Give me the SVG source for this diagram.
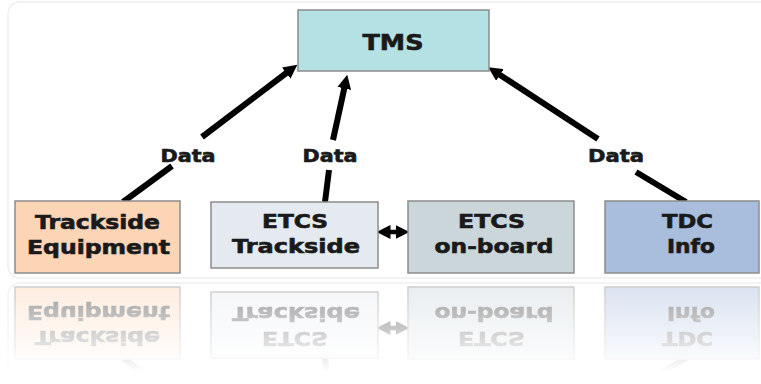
<svg xmlns="http://www.w3.org/2000/svg" xmlns:xlink="http://www.w3.org/1999/xlink" width="761" height="384" viewBox="0 0 761 384">
<style>
.box{stroke:#8c8c8c;stroke-width:1.5}
.lbl{font-family:"DejaVu Sans",Verdana,sans-serif;font-weight:bold;fill:#1a1a1a;stroke:#1a1a1a;stroke-width:0.6;text-anchor:middle}
.t{font-size:19px}
.d{font-size:17px}
.con{stroke:#000;stroke-width:6;fill:none;stroke-linecap:butt}
</style>
<defs>
<marker id="ah" viewBox="0 0 12 12" refX="3" refY="6" markerWidth="14" markerHeight="14" markerUnits="userSpaceOnUse" orient="auto-start-reverse">
<path d="M0,0 L12,6 L0,12 z" fill="#000"/>
</marker>
<linearGradient id="fade" gradientUnits="userSpaceOnUse" x1="0" y1="282" x2="0" y2="372">
<stop offset="0" stop-color="#fff" stop-opacity="0.45"/>
<stop offset="1" stop-color="#fff" stop-opacity="0"/>
</linearGradient>
<mask id="rm" maskUnits="userSpaceOnUse" x="0" y="280" width="761" height="104">
<rect x="0" y="280" width="761" height="104" fill="url(#fade)"/>
</mask>
<linearGradient id="pfade" gradientUnits="userSpaceOnUse" x1="0" y1="282" x2="0" y2="384">
<stop offset="0" stop-color="#fff" stop-opacity="1"/>
<stop offset="1" stop-color="#fff" stop-opacity="0"/>
</linearGradient>
<mask id="pm" maskUnits="userSpaceOnUse" x="0" y="280" width="761" height="104">
<rect x="0" y="280" width="761" height="104" fill="url(#pfade)"/>
</mask>
</defs>
<rect x="0" y="0" width="761" height="384" fill="#fff"/>
<rect x="8" y="2" width="770" height="276" rx="12" fill="#fff" stroke="#efefef" stroke-width="1.5"/>
<rect x="8" y="283" width="770" height="120" rx="12" fill="#fff" stroke="#f0f0f0" stroke-width="1.5" mask="url(#pm)"/>
<g id="main">
<g id="connectors">
<line class="con" x1="123" y1="202" x2="172" y2="166"/>
<line class="con" x1="202" y1="137" x2="289" y2="71" marker-end="url(#ah)"/>
<line class="con" x1="325" y1="202" x2="329" y2="170"/>
<line class="con" x1="333" y1="140" x2="345" y2="85" marker-end="url(#ah)"/>
<line class="con" x1="598" y1="139" x2="497" y2="73" marker-end="url(#ah)"/>
<line class="con" x1="636" y1="172" x2="686" y2="202"/>
<line class="con" x1="387" y1="232" x2="399" y2="232" marker-start="url(#ah)" marker-end="url(#ah)" style="stroke-width:4.5"/>
<text class="lbl d" x="188" y="162" textLength="55" lengthAdjust="spacingAndGlyphs">Data</text>
<text class="lbl d" x="330" y="162" textLength="55" lengthAdjust="spacingAndGlyphs">Data</text>
<text class="lbl d" x="616" y="162" textLength="56" lengthAdjust="spacingAndGlyphs">Data</text>
</g>
<g id="tms">
<rect class="box" x="298" y="10" width="191" height="61" fill="#b4e1e4"/>
<text class="lbl" style="font-size:22px" x="393" y="50" textLength="61" lengthAdjust="spacingAndGlyphs">TMS</text>
</g>
<g id="trackside-equipment">
<rect class="box" x="15" y="201" width="165" height="72" fill="#fbd5b6"/>
<text class="lbl t" x="97.5" y="229" textLength="125" lengthAdjust="spacingAndGlyphs">Trackside</text>
<text class="lbl t" x="98.5" y="254" textLength="143" lengthAdjust="spacingAndGlyphs">Equipment</text>
</g>
<g id="etcs-trackside">
<rect class="box" x="211" y="202" width="167" height="66" fill="#e4eaf0"/>
<text class="lbl t" x="295" y="228" textLength="66" lengthAdjust="spacingAndGlyphs">ETCS</text>
<text class="lbl t" x="296" y="253" textLength="128" lengthAdjust="spacingAndGlyphs">Trackside</text>
</g>
<g id="etcs-onboard">
<rect class="box" x="408" y="201" width="166" height="72" fill="#cbd6db"/>
<text class="lbl t" x="491.5" y="228" textLength="67" lengthAdjust="spacingAndGlyphs">ETCS</text>
<text class="lbl t" x="494" y="253" textLength="119" lengthAdjust="spacingAndGlyphs">on-board</text>
</g>
<g id="tdc-info">
<rect class="box" x="605" y="201" width="154" height="72" fill="#a9bddd"/>
<text class="lbl t" x="687.5" y="228" textLength="51" lengthAdjust="spacingAndGlyphs">TDC</text>
<text class="lbl t" x="691" y="253" textLength="48" lengthAdjust="spacingAndGlyphs">Info</text>
</g>
</g>
<g id="reflection" mask="url(#rm)">
<use xlink:href="#main" transform="matrix(1,0,0,-1,0,560)"/>
</g>
</svg>
